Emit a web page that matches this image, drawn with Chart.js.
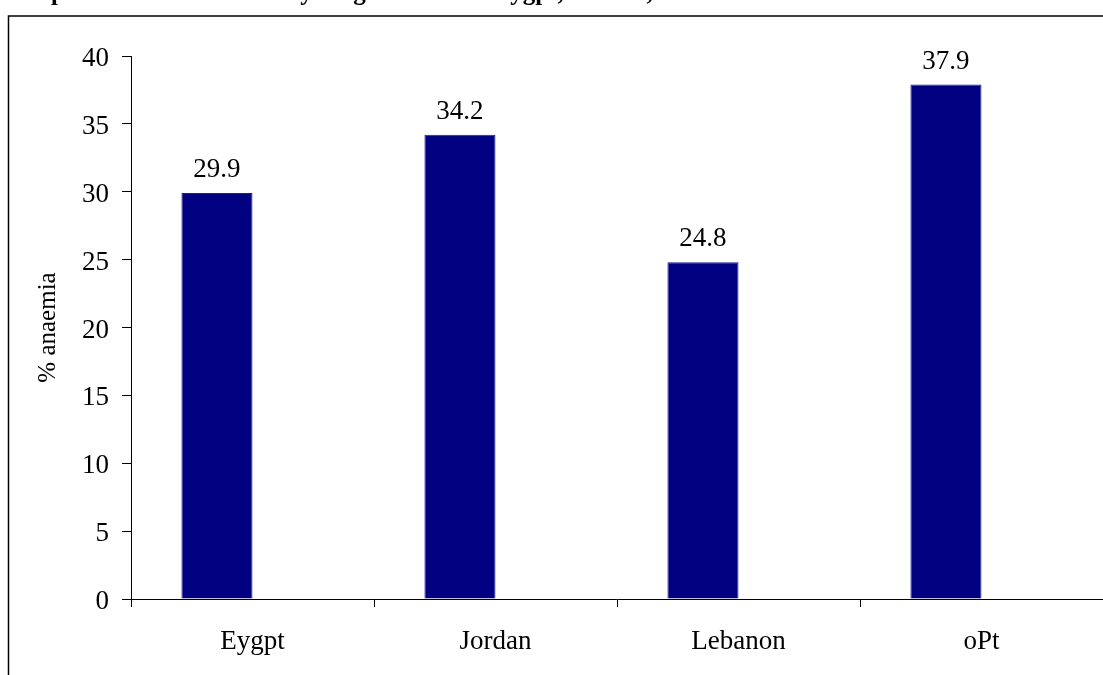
<!DOCTYPE html>
<html>
<head>
<meta charset="utf-8">
<script src="https://cdn.jsdelivr.net/npm/chart.js@4.4.0/dist/chart.umd.min.js"></script>
<style>
	html, body { margin: 0; padding: 0; background: #fff; }
	canvas { display: block; }
</style>
</head>
<body>
<canvas id="anaemiaChart" width="1103" height="675"></canvas>
<script>
var countries = ["Eygpt", "Jordan", "Lebanon", "oPt"];
var anaemiaPct = [29.9, 34.2, 24.8, 37.9];
// empty second series, keeps the bars on the left half of each category
var spacer = [null, null, null, null];
var yMin = 0;
var yMax = 40;
var yStep = 5;
var titleText = "Graph 1: Anaemia rates in young children in Eygpt, Jordan, Lebanon and oPt";
var yTitle = "% anaemia";

var serif = "'Liberation Serif', 'Times New Roman', serif";
var navy = "#000080";

// frame round the chart and the heading line cut off at the top
var framePlugin = {
	id: "frame",
	afterDraw: function (chart) {
		var ctx = chart.ctx;
		ctx.save();
		ctx.strokeStyle = "#000";
		ctx.lineWidth = 1.5;
		ctx.beginPath();
		ctx.moveTo(8.5, 675);
		ctx.lineTo(8.5, 16);
		ctx.lineTo(1103, 16);
		ctx.stroke();

		ctx.fillStyle = "#000";
		ctx.font = "bold 25px " + serif;
		ctx.textAlign = "left";
		ctx.textBaseline = "alphabetic";
		ctx.fillText(titleText, 8, 0);
		ctx.restore();
	}
};

// value above each bar
var valueLabels = {
	id: "valueLabels",
	afterDatasetsDraw: function (chart) {
		var ctx = chart.ctx;
		var meta = chart.getDatasetMeta(0);
		ctx.save();
		ctx.fillStyle = "#000";
		ctx.font = "27px " + serif;
		ctx.textAlign = "center";
		ctx.textBaseline = "alphabetic";
		meta.data.forEach(function (bar, i) {
			ctx.fillText(anaemiaPct[i].toFixed(1), bar.x, bar.y - 16);
		});
		ctx.restore();
	}
};

var ctx = document.getElementById("anaemiaChart").getContext("2d");
var chart = new Chart(ctx, {
	type: "bar",
	data: {
		labels: countries,
		datasets: [{
			data: anaemiaPct,
			backgroundColor: navy,
			borderColor: "#1c1c9a",
			borderWidth: 1,
			borderSkipped: "bottom",
			categoryPercentage: 0.585,
			barPercentage: 1.0
		}, {
			data: spacer,
			backgroundColor: "transparent",
			categoryPercentage: 0.585,
			barPercentage: 1.0
		}]
	},
	options: {
		responsive: false,
		animation: false,
		layout: {
			padding: { top: 56, right: 0, bottom: 0, left: 0 }
		},
		plugins: {
			legend: { display: false },
			tooltip: { enabled: false }
		},
		scales: {
			x: {
				offset: true,
				grid: {
					offset: true,
					drawOnChartArea: false,
					drawTicks: true,
					tickLength: 8,
					color: "#000",
					lineWidth: 1
				},
				border: { display: true, color: "#000", width: 1 },
				ticks: {
					color: "#000",
					font: { family: serif, size: 27 },
					padding: 19,
					maxRotation: 0
				},
				afterFit: function (scale) {
					scale.height = 76;
				}
			},
			y: {
				min: yMin,
				max: yMax,
				grid: {
					drawOnChartArea: false,
					drawTicks: true,
					tickLength: 9,
					color: "#000",
					lineWidth: 1
				},
				border: { display: true, color: "#000", width: 1 },
				ticks: {
					stepSize: yStep,
					color: "#000",
					font: { family: serif, size: 27 },
					padding: 13,
					labelOffset: 3
				},
				title: {
					display: true,
					text: yTitle,
					color: "#000",
					font: { family: serif, size: 25 },
					padding: { top: 33, bottom: 0 }
				},
				afterFit: function (scale) {
					scale.width = 131;
				}
			}
		}
	},
	plugins: [framePlugin, valueLabels]
});
</script>
</body>
</html>
